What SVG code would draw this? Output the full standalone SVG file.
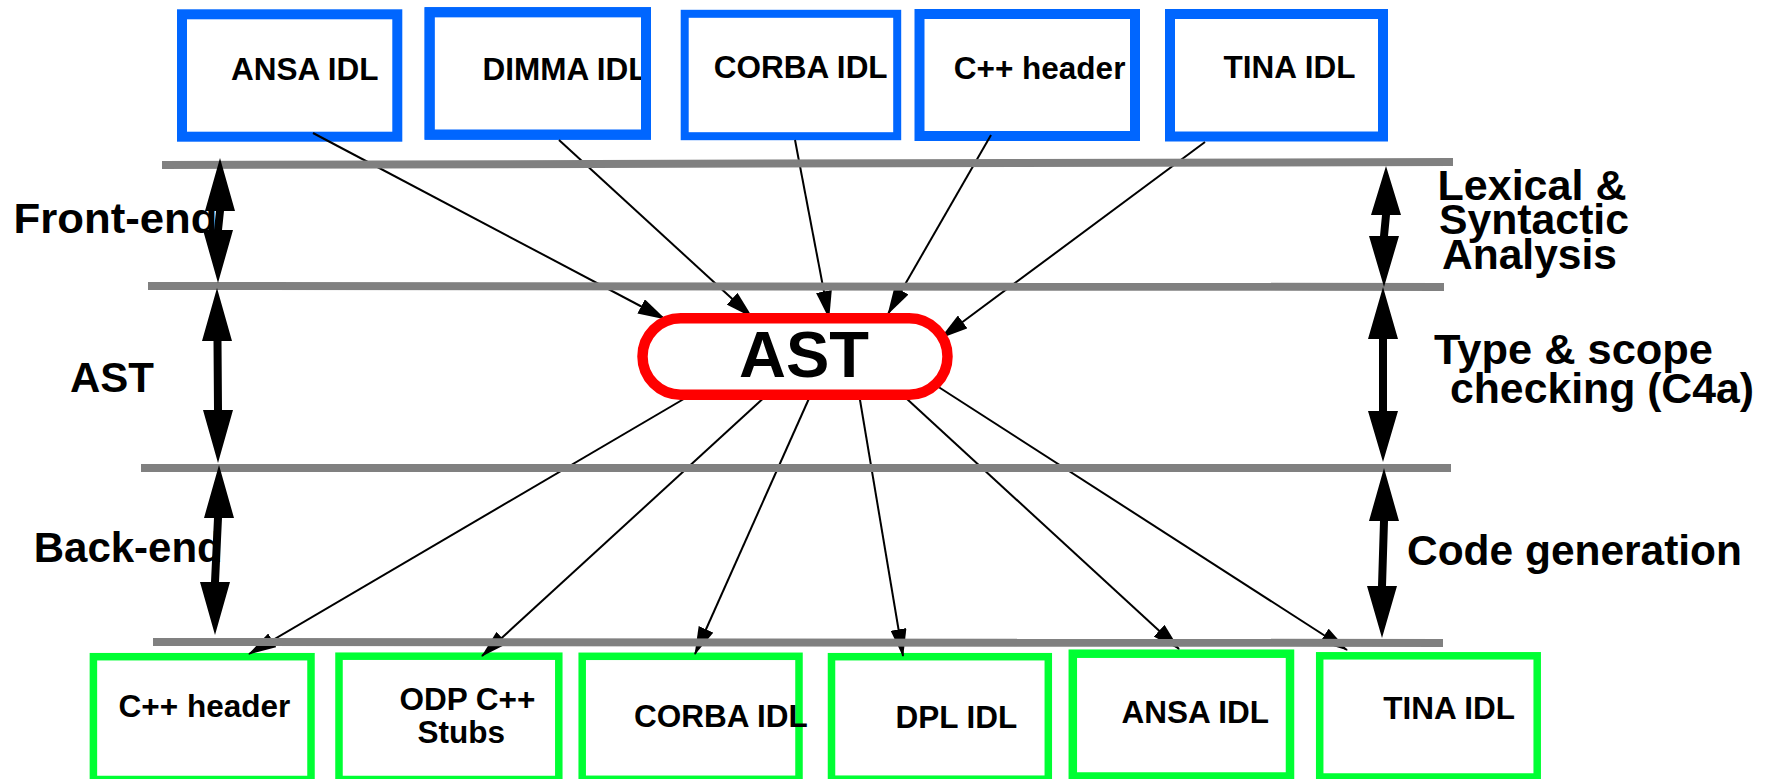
<svg xmlns="http://www.w3.org/2000/svg" width="1769" height="779" viewBox="0 0 1769 779">
  <style>
    .lbl { font-family: "Liberation Sans", Arial, Helvetica, sans-serif; font-weight: bold; fill: #000; }
    .box { font-size: 31.5px; }
    .phase { font-size: 42px; }
    .src { fill: #fff; stroke: #0066ff; stroke-width: 10; }
    .dst { fill: #fff; stroke: #00ff33; stroke-width: 7.5; }
    .rim { fill: none; stroke: #0066ff; stroke-width: 10; }
    .layer { stroke: #808080; stroke-width: 8; fill: none; }
    .conn { stroke: #000; stroke-width: 2; fill: none; marker-end: url(#head); }
    .span { fill: #000; stroke: none; }
  </style>
  <defs>
    <marker id="head" markerUnits="userSpaceOnUse" markerWidth="28" markerHeight="16" refX="27" refY="8" orient="auto">
      <path d="M0,0 L28,8 L0,16 Z" fill="#000"/>
    </marker>
  </defs>

  <rect width="1769" height="779" fill="#fff"/>

  <!-- input languages -->
  <g id="in-ansa">
    <rect class="src" x="182" y="14.3" width="215.3" height="122.4"/>
    <text class="lbl box" x="231" y="80">ANSA IDL</text>
  </g>
  <g id="in-dimma">
    <rect class="src" x="429.6" y="12.2" width="216.4" height="122.5"/>
    <text class="lbl box" x="482.5" y="80">DIMMA IDL</text>
    <rect class="rim" x="429.6" y="12.2" width="216.4" height="122.5"/>
  </g>
  <g id="in-corba">
    <rect class="src" x="684.7" y="13.8" width="212.5" height="122.4" style="stroke-width:8"/>
    <text class="lbl box" x="713.8" y="78.3">CORBA IDL</text>
  </g>
  <g id="in-cpp">
    <rect class="src" x="919.5" y="14" width="215.5" height="122"/>
    <text class="lbl box" x="953.8" y="79.3">C++ header</text>
  </g>
  <g id="in-tina">
    <rect class="src" x="1170" y="14" width="213" height="122.5"/>
    <text class="lbl box" x="1223.6" y="78.3">TINA IDL</text>
  </g>

  <!-- output targets -->
  <g id="out-cpp">
    <rect class="dst" x="93.4" y="656.7" width="217.6" height="122.8"/>
    <text class="lbl box" x="118.6" y="716.7">C++ header</text>
  </g>
  <g id="out-odp">
    <rect class="dst" x="339" y="656.2" width="219.8" height="123.3"/>
    <text class="lbl box" x="399.4" y="710">ODP C++</text>
    <text class="lbl box" x="417.5" y="742.7">Stubs</text>
  </g>
  <g id="out-corba">
    <rect class="dst" x="582.2" y="656.3" width="216.8" height="123"/>
    <text class="lbl box" x="634" y="726.7">CORBA IDL</text>
  </g>
  <g id="out-dpl">
    <rect class="dst" x="831.5" y="656.7" width="216.8" height="122.5"/>
    <text class="lbl box" x="895.4" y="728.3">DPL IDL</text>
  </g>
  <g id="out-ansa">
    <rect class="dst" x="1072.8" y="653.7" width="217.2" height="122.8" style="stroke-width:8.5"/>
    <text class="lbl box" x="1121.5" y="722.7">ANSA IDL</text>
  </g>
  <g id="out-tina">
    <rect class="dst" x="1319.7" y="655.8" width="217.5" height="121.2"/>
    <text class="lbl box" x="1383.2" y="719.3">TINA IDL</text>
  </g>

  <!-- arrows into and out of the syntax tree -->
  <g id="connectors">
    <line class="conn" x1="313" y1="133" x2="665" y2="319"/>
    <line class="conn" x1="559" y1="140" x2="752" y2="317"/>
    <line class="conn" x1="795" y1="140" x2="829" y2="318"/>
    <line class="conn" x1="991" y1="135" x2="888" y2="314"/>
    <line class="conn" x1="1205" y1="142" x2="941" y2="338"/>
    <line class="conn" x1="694" y1="393" x2="249" y2="654"/>
    <line class="conn" x1="768" y1="394" x2="482" y2="656"/>
    <line class="conn" x1="811" y1="394" x2="695" y2="654"/>
    <line class="conn" x1="859" y1="394" x2="903" y2="656"/>
    <line class="conn" x1="907" y1="399" x2="1179" y2="649"/>
    <line class="conn" x1="937" y1="386" x2="1347" y2="650"/>
  </g>

  <!-- phase boundaries -->
  <g id="layers">
    <line class="layer" x1="162" y1="165" x2="1453" y2="162"/>
    <line class="layer" x1="148" y1="286" x2="1444" y2="287"/>
    <line class="layer" x1="141" y1="468" x2="1451" y2="468"/>
    <line class="layer" x1="153" y1="642" x2="1443" y2="643"/>
  </g>

  <!-- central node -->
  <g id="ast">
    <rect x="642.5" y="318.3" width="305" height="76.4" rx="38.2" ry="38.2" fill="#fff" stroke="#ff0000" stroke-width="10.5"/>
    <text class="lbl" x="739" y="377" font-size="65">AST</text>
  </g>

  <!-- phase extents, left side -->
  <g id="spans-left">
    <path class="span" d="M220,158 L235,211 L224,211 L222,230 L233,230 L218,283 L203,230 L214,230 L216,211 L205,211 Z"/>
    <path class="span" d="M217,288 L232,341 L221.5,341 L222,410 L233,410 L218,463 L203,410 L214,410 L213.5,341 L202,341 Z"/>
    <path class="span" d="M219,465 L234,518 L222,518 L219,582 L230,582 L215,635 L200,582 L211,582 L214,518 L204,518 Z"/>
  </g>
  <!-- phase extents, right side -->
  <g id="spans-right">
    <path class="span" d="M1386,166 L1401,215 L1390,215 L1388,236 L1399,236 L1384,287 L1369,236 L1380,236 L1382,215 L1371,215 Z"/>
    <path class="span" d="M1383,287 L1398,339 L1387,339 L1387,411 L1398,411 L1383,462 L1368,411 L1379,411 L1379,339 L1368,339 Z"/>
    <path class="span" d="M1384,468 L1399,521 L1388,521 L1386,586 L1397,586 L1382,638 L1367,586 L1378,586 L1380,521 L1369,521 Z"/>
  </g>

  <!-- phase names -->
  <g id="phase-labels">
    <text class="lbl phase" x="13.5" y="233.3" textLength="204" lengthAdjust="spacingAndGlyphs">Front-end</text>
    <text class="lbl phase" x="70" y="391.7">AST</text>
    <text class="lbl phase" x="33.7" y="561.7">Back-end</text>
    <text class="lbl phase" x="1437.5" y="199.5" textLength="189" lengthAdjust="spacingAndGlyphs">Lexical &amp;</text>
    <text class="lbl phase" x="1439" y="233.5" textLength="190" lengthAdjust="spacingAndGlyphs">Syntactic</text>
    <text class="lbl phase" x="1442" y="268.5" textLength="175" lengthAdjust="spacingAndGlyphs">Analysis</text>
    <text class="lbl phase" x="1434" y="363.5" textLength="279" lengthAdjust="spacingAndGlyphs">Type &amp; scope</text>
    <text class="lbl phase" x="1450" y="402.7" textLength="304" lengthAdjust="spacingAndGlyphs">checking (C4a)</text>
    <text class="lbl phase" x="1407" y="565" textLength="335" lengthAdjust="spacingAndGlyphs">Code generation</text>
  </g>
</svg>
